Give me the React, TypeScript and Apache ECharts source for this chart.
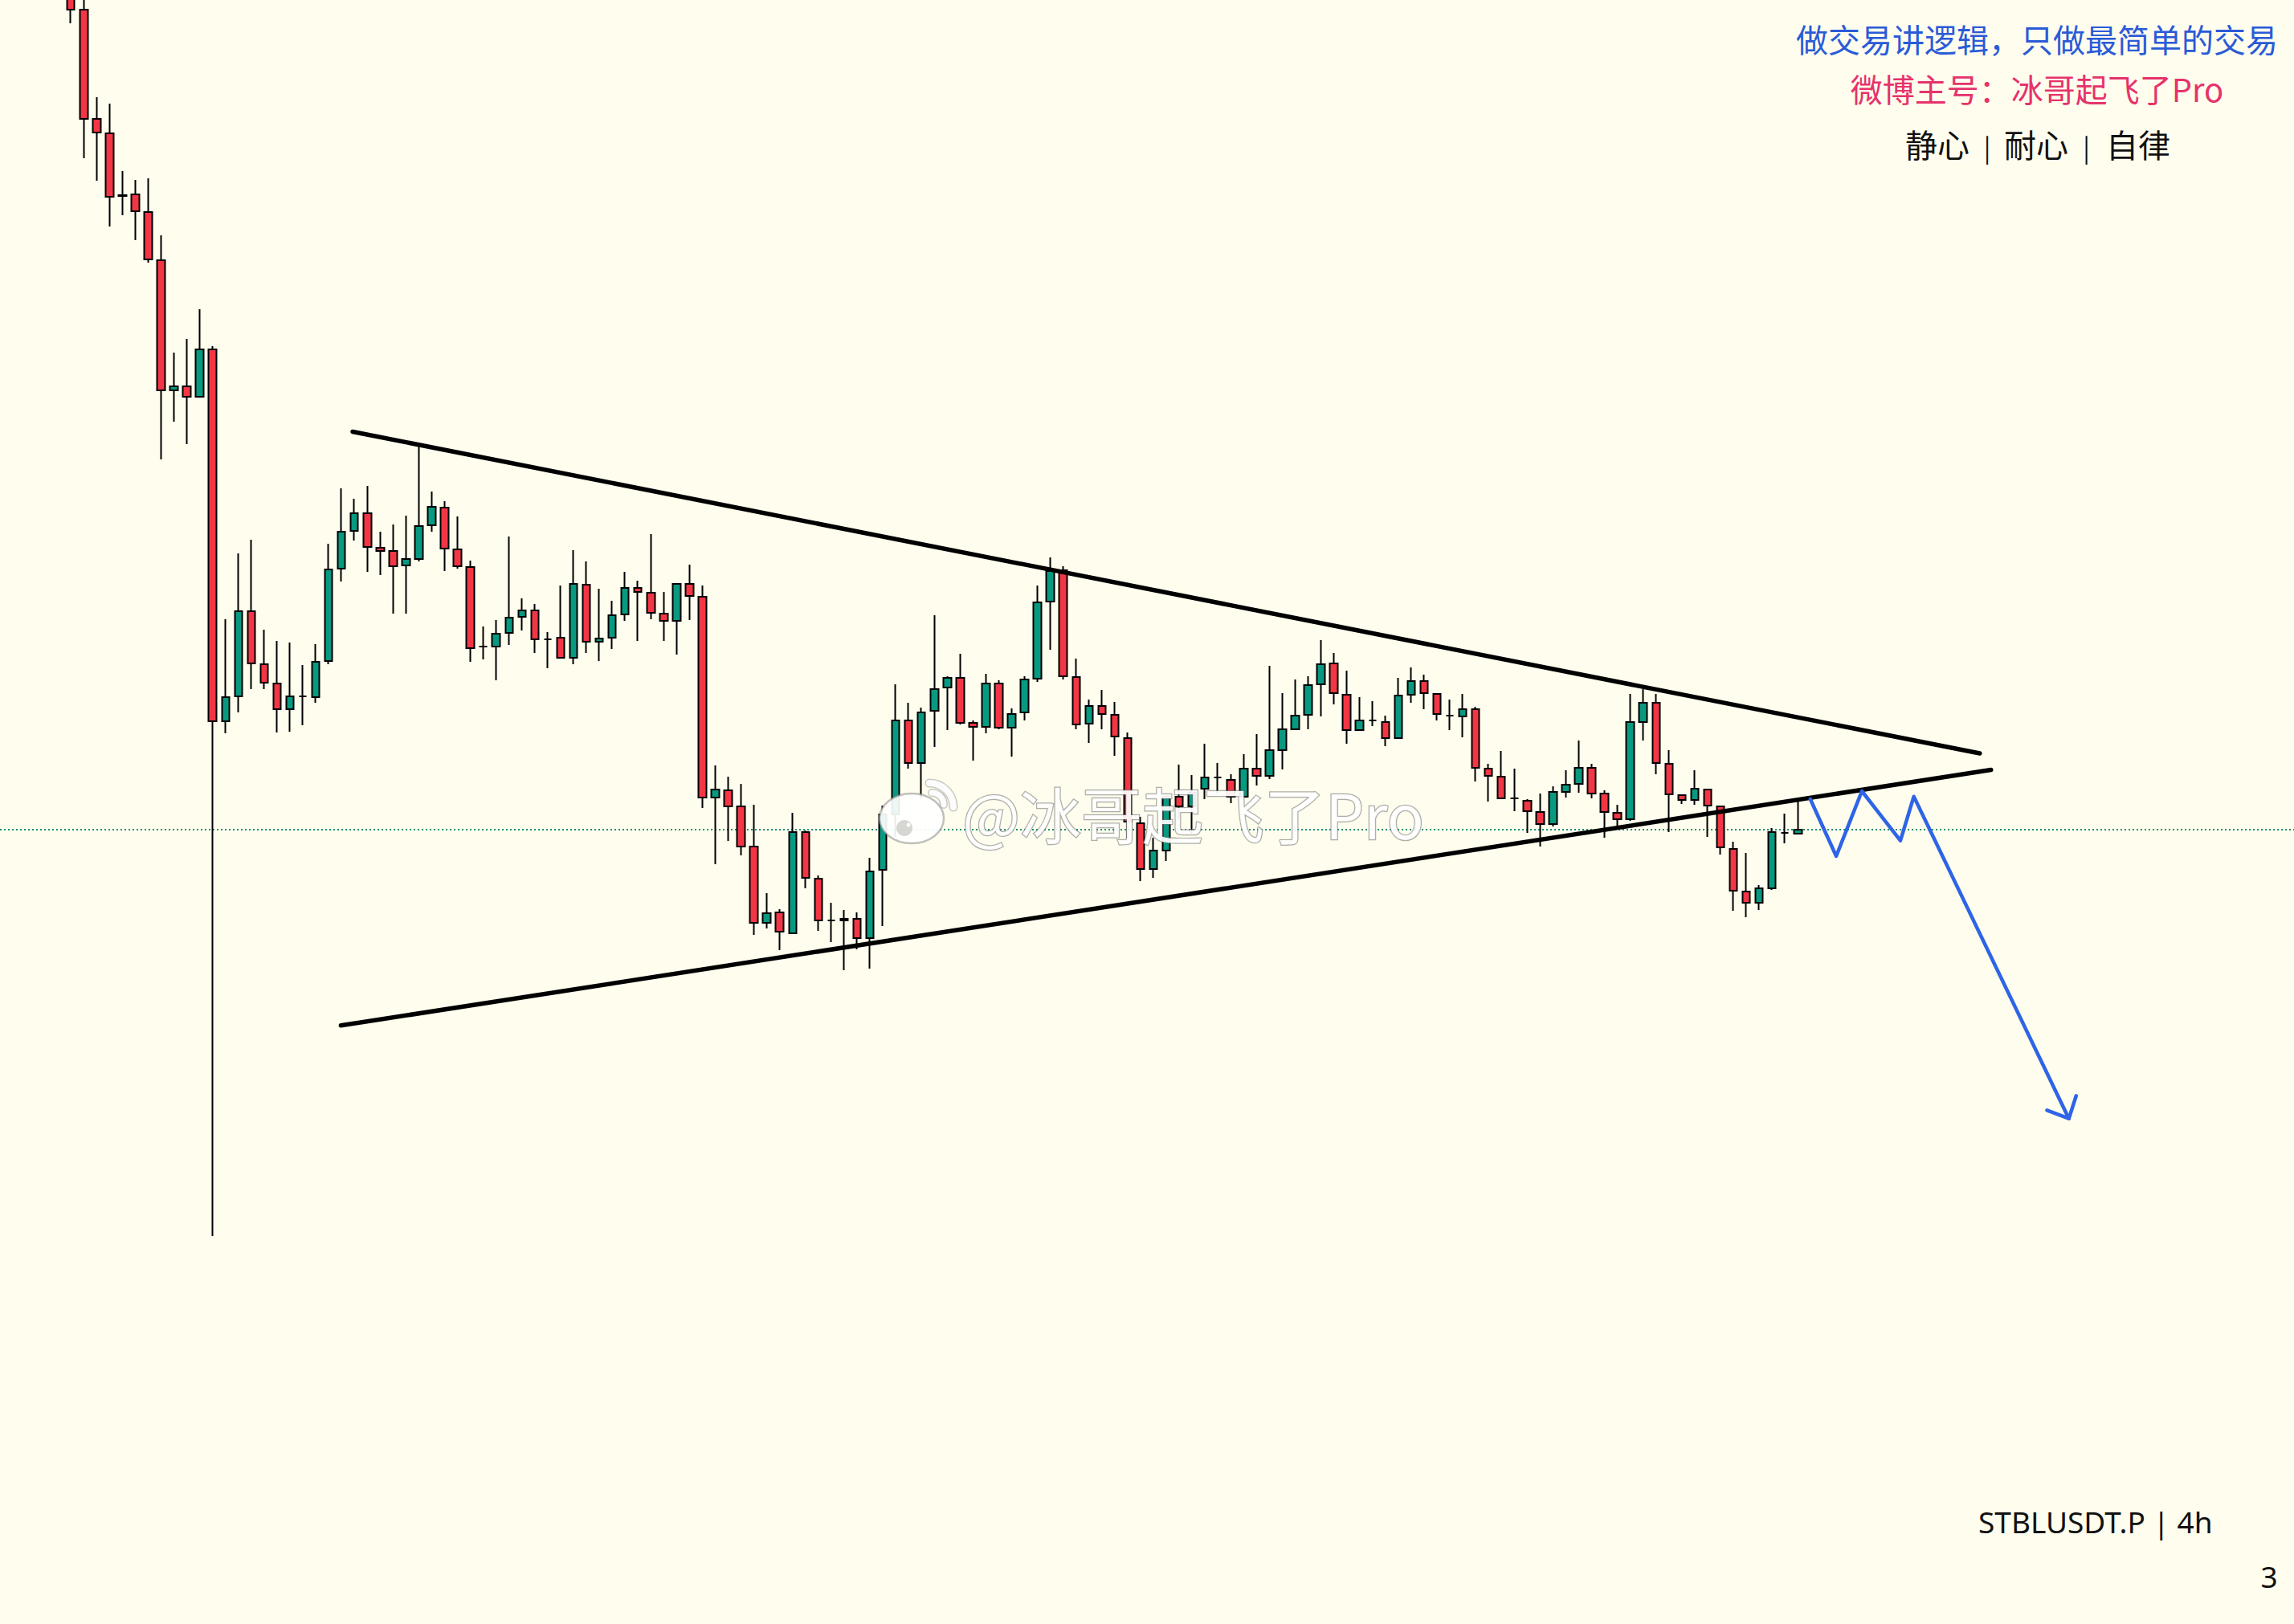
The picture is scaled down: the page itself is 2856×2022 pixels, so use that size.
import React, { useEffect, useRef } from 'react';
import * as echarts from 'echarts';

// ---- layout of the time axis (slots of 4h) ----
const LEAD_SLOTS = 5; // empty slots left of the first visible candle
const TOTAL_SLOTS = 178;
const SLOT_W = 16.067;

// ---- candle data (STBLUSDT.P, 4h) ----
const opens = [
  0.2020, 0.1988, 0.1852, 0.1834, 0.1757, 0.1758, 0.1736, 0.1676, 0.1514, 0.1519,
  0.1506, 0.1565, 0.1102, 0.1133, 0.1239, 0.1173, 0.1149, 0.1117, 0.1133, 0.1132,
  0.1177, 0.1292, 0.1339, 0.1361, 0.1318, 0.1314, 0.1296, 0.1304, 0.1346, 0.1368,
  0.1316, 0.1294, 0.1195, 0.1195, 0.1212, 0.1232, 0.1240, 0.1204, 0.1206, 0.1181,
  0.1272, 0.1201, 0.1206, 0.1235, 0.1268, 0.1262, 0.1236, 0.1227, 0.1273, 0.1257,
  0.1007, 0.1016, 0.0996, 0.0946, 0.0851, 0.0864, 0.0838, 0.0964, 0.0906, 0.0854,
  0.0854, 0.0856, 0.0832, 0.0917, 0.0986, 0.1103, 0.1050, 0.1115, 0.1144, 0.1156,
  0.1100, 0.1095, 0.1149, 0.1094, 0.1113, 0.1155, 0.1251, 0.1290, 0.1157, 0.1099,
  0.1121, 0.1110, 0.1081, 0.0975, 0.0918, 0.0941, 0.1008, 0.0996, 0.1018, 0.1032,
  0.1029, 0.1008, 0.1043, 0.1034, 0.1066, 0.1092, 0.1110, 0.1148, 0.1174, 0.1135,
  0.1091, 0.1103, 0.1101, 0.1081, 0.1135, 0.1152, 0.1136, 0.1109, 0.1108, 0.1117,
  0.1043, 0.1033, 0.1006, 0.1003, 0.0989, 0.0974, 0.1014, 0.1024, 0.1044, 0.1012,
  0.0988, 0.0980, 0.1101, 0.1125, 0.1049, 0.1010, 0.1004, 0.1017, 0.0996, 0.0943,
  0.0890, 0.0876, 0.0894, 0.0963, 0.0962,
];
const closes = [
  0.1988, 0.1852, 0.1835, 0.1755, 0.1756, 0.1737, 0.1677, 0.1514, 0.1519, 0.1506,
  0.1565, 0.1102, 0.1132, 0.1239, 0.1174, 0.1150, 0.1117, 0.1133, 0.1133, 0.1176,
  0.1291, 0.1338, 0.1361, 0.1319, 0.1314, 0.1295, 0.1304, 0.1345, 0.1369, 0.1317,
  0.1295, 0.1193, 0.1195, 0.1211, 0.1231, 0.1240, 0.1204, 0.1204, 0.1181, 0.1273,
  0.1201, 0.1205, 0.1234, 0.1268, 0.1263, 0.1237, 0.1227, 0.1273, 0.1258, 0.1007,
  0.1017, 0.0996, 0.0946, 0.0851, 0.0863, 0.0840, 0.0964, 0.0907, 0.0854, 0.0854,
  0.0856, 0.0832, 0.0915, 0.0986, 0.1103, 0.1050, 0.1113, 0.1142, 0.1156, 0.1100,
  0.1095, 0.1149, 0.1094, 0.1111, 0.1154, 0.1250, 0.1289, 0.1158, 0.1098, 0.1121,
  0.1111, 0.1083, 0.0977, 0.0918, 0.0941, 0.1008, 0.0996, 0.1013, 0.1032, 0.1032,
  0.1008, 0.1043, 0.1034, 0.1066, 0.1092, 0.1109, 0.1147, 0.1173, 0.1137, 0.1091,
  0.1103, 0.1103, 0.1081, 0.1134, 0.1152, 0.1137, 0.1111, 0.1109, 0.1117, 0.1044,
  0.1034, 0.1006, 0.1006, 0.0990, 0.0974, 0.1014, 0.1023, 0.1044, 0.1012, 0.0989,
  0.0980, 0.1101, 0.1125, 0.1050, 0.1011, 0.1004, 0.1018, 0.0997, 0.0945, 0.0891,
  0.0876, 0.0894, 0.0964, 0.0963, 0.0967,
];
const lows = [
  0.1971, 0.1803, 0.1775, 0.1718, 0.1732, 0.1701, 0.1673, 0.1428, 0.1475, 0.1447,
  0.1506, 0.0461, 0.1087, 0.1113, 0.1142, 0.1142, 0.1088, 0.1089, 0.1097, 0.1125,
  0.1173, 0.1276, 0.1327, 0.1288, 0.1284, 0.1236, 0.1236, 0.1301, 0.1338, 0.1289,
  0.1292, 0.1176, 0.1179, 0.1153, 0.1197, 0.1215, 0.1187, 0.1168, 0.1181, 0.1173,
  0.1187, 0.1177, 0.1192, 0.1227, 0.1202, 0.1229, 0.1202, 0.1185, 0.1228, 0.0994,
  0.0924, 0.0953, 0.0935, 0.0836, 0.0844, 0.0817, 0.0837, 0.0894, 0.0841, 0.0827,
  0.0792, 0.0818, 0.0794, 0.0847, 0.0958, 0.1043, 0.1006, 0.1070, 0.1091, 0.1098,
  0.1053, 0.1087, 0.1092, 0.1058, 0.1103, 0.1151, 0.1191, 0.1154, 0.1092, 0.1075,
  0.1092, 0.1059, 0.0956, 0.0903, 0.0907, 0.0928, 0.0980, 0.0962, 0.1005, 0.1012,
  0.1000, 0.1008, 0.1022, 0.1030, 0.1042, 0.1092, 0.1092, 0.1108, 0.1123, 0.1074,
  0.1090, 0.1096, 0.1071, 0.1081, 0.1125, 0.1117, 0.1103, 0.1091, 0.1082, 0.1027,
  0.1002, 0.1005, 0.0990, 0.0963, 0.0946, 0.0971, 0.1007, 0.1013, 0.1006, 0.0957,
  0.0972, 0.0978, 0.1078, 0.1036, 0.0964, 0.0999, 0.0998, 0.0958, 0.0936, 0.0866,
  0.0858, 0.0867, 0.0892, 0.0950, 0.0962,
];
const highs = [
  0.2040, 0.2005, 0.1879, 0.1871, 0.1787, 0.1776, 0.1778, 0.1707, 0.1561, 0.1578,
  0.1615, 0.1569, 0.1229, 0.1311, 0.1328, 0.1216, 0.1202, 0.1200, 0.1172, 0.1198,
  0.1323, 0.1392, 0.1379, 0.1395, 0.1338, 0.1347, 0.1358, 0.1444, 0.1388, 0.1376,
  0.1357, 0.1302, 0.1220, 0.1228, 0.1332, 0.1255, 0.1248, 0.1213, 0.1271, 0.1315,
  0.1301, 0.1267, 0.1252, 0.1288, 0.1277, 0.1335, 0.1263, 0.1273, 0.1297, 0.1271,
  0.1047, 0.1033, 0.1024, 0.0998, 0.0888, 0.0868, 0.0988, 0.0966, 0.0910, 0.0876,
  0.0867, 0.0864, 0.0932, 0.0997, 0.1148, 0.1125, 0.1119, 0.1234, 0.1158, 0.1186,
  0.1103, 0.1161, 0.1153, 0.1118, 0.1158, 0.1271, 0.1306, 0.1295, 0.1180, 0.1129,
  0.1141, 0.1126, 0.1088, 0.0983, 0.0957, 0.1010, 0.1048, 0.1035, 0.1074, 0.1050,
  0.1036, 0.1061, 0.1086, 0.1171, 0.1137, 0.1154, 0.1158, 0.1203, 0.1187, 0.1165,
  0.1132, 0.1127, 0.1109, 0.1156, 0.1169, 0.1160, 0.1137, 0.1129, 0.1136, 0.1120,
  0.1049, 0.1065, 0.1043, 0.1005, 0.1012, 0.1021, 0.1041, 0.1078, 0.1049, 0.1016,
  0.0998, 0.1136, 0.1142, 0.1136, 0.1066, 0.1011, 0.1041, 0.1018, 0.0997, 0.0952,
  0.0938, 0.0898, 0.0969, 0.0987, 0.1007,
];
const lastPrice = 0.0967;

// ---- drawings: [candle index (fractional), price] ----
const upperTrend = [[21.86, 0.14625], [148.12, 0.1062]];
const lowerTrend = [[20.95, 0.07232], [148.99, 0.10415]];
const forecastPath = [
  [134.97, 0.1005], [136.98, 0.0934], [138.97, 0.1015],
  [141.96, 0.09533], [143.0, 0.10083], [155.03, 0.06073],
];
const arrowHead = [[153.33, 0.06177], [155.03, 0.06073], [155.6, 0.06357]];

// ---- texts ----
const headerLine1 = '做交易讲逻辑，只做最简单的交易';
const headerLine2 = '微博主号：冰哥起飞了Pro';
const mottoWords = ['静心', '耐心', '自律'];
const symbolLabel = 'STBLUSDT.P | 4h';
const pageLabel = '3';
const watermarkText = '@冰哥起飞了Pro';

const CJK = '"Noto Sans CJK SC", "Noto Sans", sans-serif';

function buildOption() {
  const slotLabels: string[] = [];
  for (let i = 0; i < TOTAL_SLOTS; i++) slotLabels.push('T' + (i - LEAD_SLOTS));

  const candleData = opens.map((o, i) => [i + LEAD_SLOTS, o, closes[i], lows[i], highs[i]]);
  const xMin = -LEAD_SLOTS - 0.5;
  const xMax = TOTAL_SLOTS - LEAD_SLOTS - 0.5;

  const textEl = (text: string, x: number, y: number, font: string, fill: string, align = 'center') => ({
    type: 'text',
    x,
    y,
    z: 50,
    silent: true,
    style: {
      text,
      font,
      fill,
      align,
      textAlign: align,
      verticalAlign: 'middle',
      textVerticalAlign: 'middle',
    },
  });

  const mottoX = [2412, 2535, 2662];
  const sepX = [2474, 2597.5];

  const graphics: any[] = [
    textEl(headerLine1, 2536, 48, `40px ${CJK}`, '#2a5bd7'),
    textEl(headerLine2, 2536, 110, `40px ${CJK}`, '#e6336b'),
    ...mottoWords.map((w, i) => textEl(w, mottoX[i], 179, `40px ${CJK}`, '#111111')),
    ...sepX.map((x) => textEl('|', x, 182, `32px ${CJK}`, '#111111')),
    textEl(symbolLabel, 2463, 1894, '37px "Noto Sans", "Open Sans", sans-serif', '#111111', 'left'),
    textEl(pageLabel, 2825, 1962, '37px "Noto Sans", "Open Sans", sans-serif', '#111111'),
    // weibo logo (watermark)
    {
      type: 'group',
      z: 100,
      silent: true,
      children: [
        { type: 'ellipse', z: 100, shape: { cx: 1135, cy: 1019, rx: 40, ry: 31 },
          style: { fill: 'rgba(255,255,255,0.92)', stroke: 'rgba(140,140,140,0.55)', lineWidth: 2.5 } },
        { type: 'ellipse', z: 101, shape: { cx: 1126, cy: 1031, rx: 10, ry: 10 },
          style: { fill: 'rgba(200,200,195,0.75)' } },
        { type: 'circle', z: 102, shape: { cx: 1131, cy: 1027, r: 2.5 },
          style: { fill: 'rgba(255,255,255,0.95)' } },
        { type: 'arc', z: 100, shape: { cx: 1157, cy: 1005, r: 30, startAngle: -Math.PI / 2, endAngle: 0 },
          style: { stroke: 'rgba(150,150,150,0.5)', lineWidth: 11, lineCap: 'round', fill: 'none' } },
        { type: 'arc', z: 101, shape: { cx: 1157, cy: 1005, r: 30, startAngle: -Math.PI / 2, endAngle: 0 },
          style: { stroke: 'rgba(255,255,255,0.95)', lineWidth: 8, lineCap: 'round', fill: 'none' } },
        { type: 'arc', z: 100, shape: { cx: 1160, cy: 1002, r: 15, startAngle: -Math.PI / 2, endAngle: 0 },
          style: { stroke: 'rgba(150,150,150,0.5)', lineWidth: 10, lineCap: 'round', fill: 'none' } },
        { type: 'arc', z: 101, shape: { cx: 1160, cy: 1002, r: 15, startAngle: -Math.PI / 2, endAngle: 0 },
          style: { stroke: 'rgba(255,255,255,0.95)', lineWidth: 7, lineCap: 'round', fill: 'none' } },
      ],
    },
    {
      type: 'text',
      x: 1198,
      y: 1012,
      z: 100,
      silent: true,
      style: {
        text: watermarkText,
        font: `76px ${CJK}`,
        fill: 'rgba(255,255,255,0.92)',
        stroke: 'rgba(120,120,120,0.6)',
        lineWidth: 2.5,
        align: 'left',
        textAlign: 'left',
        verticalAlign: 'middle',
        textVerticalAlign: 'middle',
      },
    },
  ];

  const drawLine = (data: number[][], color: string, width: number, z: number, type: any = 'solid') => ({
    type: 'line',
    xAxisIndex: 1,
    yAxisIndex: 0,
    data,
    symbol: 'none',
    silent: true,
    z,
    lineStyle: { color, width, type, cap: 'round', join: 'round' },
  });

  const lastPriceLine = [[xMin, lastPrice], [xMax, lastPrice]];

  return {
    animation: false,
    backgroundColor: '#fefdee',
    grid: { left: 0, top: 0, width: TOTAL_SLOTS * SLOT_W, height: 2022, containLabel: false },
    xAxis: [
      { type: 'category', data: slotLabels, boundaryGap: true, show: false },
      { type: 'value', min: xMin, max: xMax, show: false },
    ],
    yAxis: [{ type: 'value', min: -0.0022, max: 0.2, show: false, splitLine: { show: false } }],
    series: [
      {
        ...drawLine(lastPriceLine, '#1b8f72', 2, 1, [2, 3]),
        lineStyle: { color: '#1b8f72', width: 2, type: [2, 3], cap: 'butt' },
      },
      {
        type: 'candlestick',
        xAxisIndex: 0,
        yAxisIndex: 0,
        data: candleData,
        encode: { x: 0, y: [1, 2, 3, 4] },
        barWidth: 10,
        z: 3,
        itemStyle: {
          color: '#089981',
          color0: '#F23645',
          borderColor: '#000000',
          borderColor0: '#000000',
          borderColorDoji: '#000000',
          borderWidth: 2,
        },
      },
      drawLine(upperTrend, '#000000', 5.5, 5),
      drawLine(lowerTrend, '#000000', 5.5, 5),
      drawLine(forecastPath, '#2e64e6', 4.5, 6),
      drawLine(arrowHead, '#2e64e6', 4.5, 6),
    ],
    graphic: { elements: graphics },
  };
}

export default function App() {
  const ref = useRef<HTMLDivElement>(null);
  useEffect(() => {
    if (!ref.current) return;
    const chart = echarts.init(ref.current, null, { renderer: 'svg' });
    chart.setOption(buildOption() as any);
    return () => chart.dispose();
  }, []);
  return (
    <div
      ref={ref}
      style={{ position: 'fixed', left: 0, top: 0, width: 2856, height: 2022, background: '#fefdee' }}
    />
  );
}
